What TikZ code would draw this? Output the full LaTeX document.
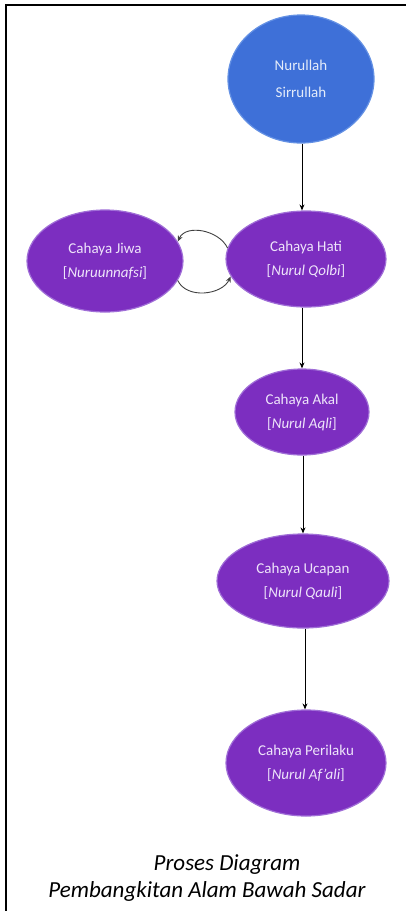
\documentclass[tikz,border=0pt]{standalone}
\usepackage{fontspec}
\setmainfont{Carlito}
\usetikzlibrary{shapes.geometric,arrows.meta}
\definecolor{purp}{RGB}{124,46,192}
\definecolor{purpedge}{RGB}{160,110,215}
\definecolor{blu}{RGB}{62,112,216}
\definecolor{bluedge}{RGB}{100,145,228}
\definecolor{ptext}{RGB}{238,228,250}
\definecolor{btext}{RGB}{228,236,250}
\begin{document}
\begin{tikzpicture}[x=1pt,y=-1pt,
  purpnode/.style={ellipse, fill=purp, draw=purpedge, line width=1.2pt, inner sep=0pt,
    text=ptext, align=center, font=\fontsize{15}{24}\selectfont},
  bluenode/.style={ellipse, fill=blu, draw=bluedge, line width=1.2pt, inner sep=0pt,
    text=btext, align=center, font=\fontsize{15}{27}\selectfont},
  arr/.style={-{Stealth[length=6pt,width=5pt]}, line width=0.8pt, black},
  curvarr/.style={-{Stealth[length=6pt,width=5pt]}, line width=0.9pt, black!75}]
\useasboundingbox (0,0) rectangle (406,911);
\draw[line width=2.2pt] (6,911) -- (6,5) -- (406,5);

\node[bluenode, minimum width=146pt, minimum height=128pt] (nur) at (301,79) {Nurullah\\Sirrullah};
\node[purpnode, minimum width=160pt, minimum height=96pt] (hati) at (306,259) {Cahaya Hati\\{[}\textit{Nurul Qolbi}{]}};
\node[purpnode, minimum width=156pt, minimum height=102pt] (jiwa) at (105,261) {Cahaya Jiwa\\{[}\textit{Nuruunnafsi}{]}};
\node[purpnode, minimum width=134pt, minimum height=86pt] (akal) at (302,412) {Cahaya Akal\\{[}\textit{Nurul Aqli}{]}};
\node[purpnode, minimum width=172pt, minimum height=94pt] (ucap) at (303,581) {Cahaya Ucapan\\{[}\textit{Nurul Qauli}{]}};
\node[purpnode, minimum width=160pt, minimum height=106pt] (peri) at (306,763) {Cahaya Perilaku\\{[}\textit{Nurul Af'ali}{]}};

\draw[arr] (nur.south -| 302,0) -- (hati.north -| 302,0);
\draw[arr] (hati.south -| 302,0) -- (akal.north -| 302,0);
\draw[arr] (akal.south -| 303,0) -- (ucap.north -| 303,0);
\draw[arr] (ucap.south -| 305,0) -- (peri.north -| 305,0);

\draw[curvarr] (hati.172) to[out=115,in=65] (jiwa.15);
\draw[curvarr] (jiwa.-15) to[out=-65,in=-115] (hati.-167);

\node[font=\fontsize{23}{27}\selectfont\itshape, anchor=base] (cap1) at (227,870) {Proses Diagram};
\node[font=\fontsize{23}{27}\selectfont\itshape, anchor=base] (cap2) at (207,897) {Pembangkitan Alam Bawah Sadar};
\end{tikzpicture}
\end{document}
